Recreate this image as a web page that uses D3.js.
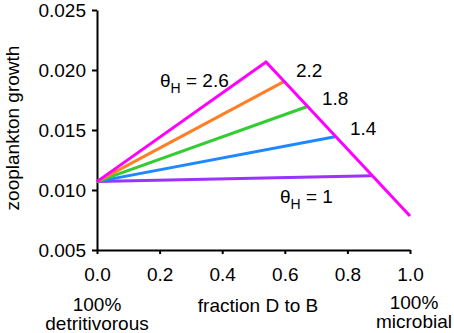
<!DOCTYPE html>
<html>
<head>
<meta charset="utf-8">
<script src="https://cdn.jsdelivr.net/npm/d3@7"></script>
<style>
  body { margin: 0; background: #fff; }
  svg text { font-family: "Liberation Sans", Arial, sans-serif; fill: #000; }
</style>
</head>
<body>
<div id="chart"></div>
<script>
// data
const thetaLabels = ["1", "1.4", "1.8", "2.2", "2.6"];
const startGrowth = 0.0107;                                  // all lines start at fraction 0
const peakFraction = [0.88, 0.76, 0.67, 0.597, 0.54];
const peakGrowth = [0.01119, 0.01444, 0.01694, 0.01903, 0.02067];
const endFraction = 1.0;                                     // limiting (pink) line end
const endGrowth = 0.00783;
const lineColors = ["#9933ff", "#1e88ff", "#33cc33", "#ff7f27", "#ff00ff"];
const xTicks = [0, 0.2, 0.4, 0.6, 0.8, 1.0];
const yTicks = [0.005, 0.010, 0.015, 0.020, 0.025];

const width = 454, height = 333;
const fs = "19px";

const svg = d3.select("#chart").append("svg")
  .attr("width", width)
  .attr("height", height);

const x = d3.scaleLinear().domain([0, 1]).range([97, 410]);
const y = d3.scaleLinear().domain([0.005, 0.025]).range([250, 10]);

// axes
const xAxis = svg.append("g")
  .attr("transform", `translate(0, ${y(0.005)})`)
  .call(d3.axisBottom(x).tickValues(xTicks).tickFormat(d3.format(".1f"))
    .tickSize(4).tickSizeOuter(0).tickPadding(14));

const yAxis = svg.append("g")
  .attr("transform", `translate(${x(0)}, 0)`)
  .call(d3.axisLeft(y).tickValues(yTicks).tickFormat(d3.format(".3f"))
    .tickSize(5).tickSizeOuter(0).tickPadding(6));

[xAxis, yAxis].forEach(a => {
  a.select(".domain").attr("stroke", "#000").attr("stroke-width", 2);
  a.selectAll(".tick line").attr("stroke", "#000").attr("stroke-width", 2);
  a.selectAll(".tick text").style("font-size", fs).attr("fill", "#000");
});

// lines from origin to each peak (thetaH = 1 drawn first, 2.6 on top)
const line = d3.line().x(d => x(d[0])).y(d => y(d[1]));

peakFraction.forEach((p, i) => {
  const pts = [[0, startGrowth], [p, peakGrowth[i]]];
  if (i === peakFraction.length - 1) pts.push([endFraction, endGrowth]);
  svg.append("path")
    .attr("d", line(pts))
    .attr("fill", "none")
    .attr("stroke", lineColors[i])
    .attr("stroke-width", 3)
    .attr("stroke-linejoin", "miter");
});

// theta labels
const lbl = (tx, ty, withTheta, val) => {
  const t = svg.append("text")
    .attr("x", tx).attr("y", ty)
    .style("font-size", fs);
  if (withTheta) {
    t.append("tspan").text("\u03B8");
    t.append("tspan").attr("dy", 6).style("font-size", "14px").text("H");
    t.append("tspan").attr("dy", -6).text(" = " + val);
  } else {
    t.text(val);
  }
};
lbl(160, 87, true, thetaLabels[4]);
lbl(296, 77, false, thetaLabels[3]);
lbl(322, 105, false, thetaLabels[2]);
lbl(350, 135, false, thetaLabels[1]);
lbl(280, 203, true, thetaLabels[0]);

// axis titles
svg.append("text")
  .attr("transform", `translate(19, 128) rotate(-90)`)
  .attr("text-anchor", "middle")
  .style("font-size", fs)
  .text("zooplankton growth");

svg.append("text")
  .attr("x", 258).attr("y", 312)
  .attr("text-anchor", "middle")
  .style("font-size", fs)
  .text("fraction D to B");

const twoLine = (cx, y1, y2, a, b) => {
  svg.append("text").attr("x", cx).attr("y", y1)
    .attr("text-anchor", "middle").style("font-size", fs).text(a);
  svg.append("text").attr("x", cx).attr("y", y2)
    .attr("text-anchor", "middle").style("font-size", fs).text(b);
};
twoLine(97, 311, 330, "100%", "detritivorous");
twoLine(414, 309, 328, "100%", "microbial");
</script>
</body>
</html>
